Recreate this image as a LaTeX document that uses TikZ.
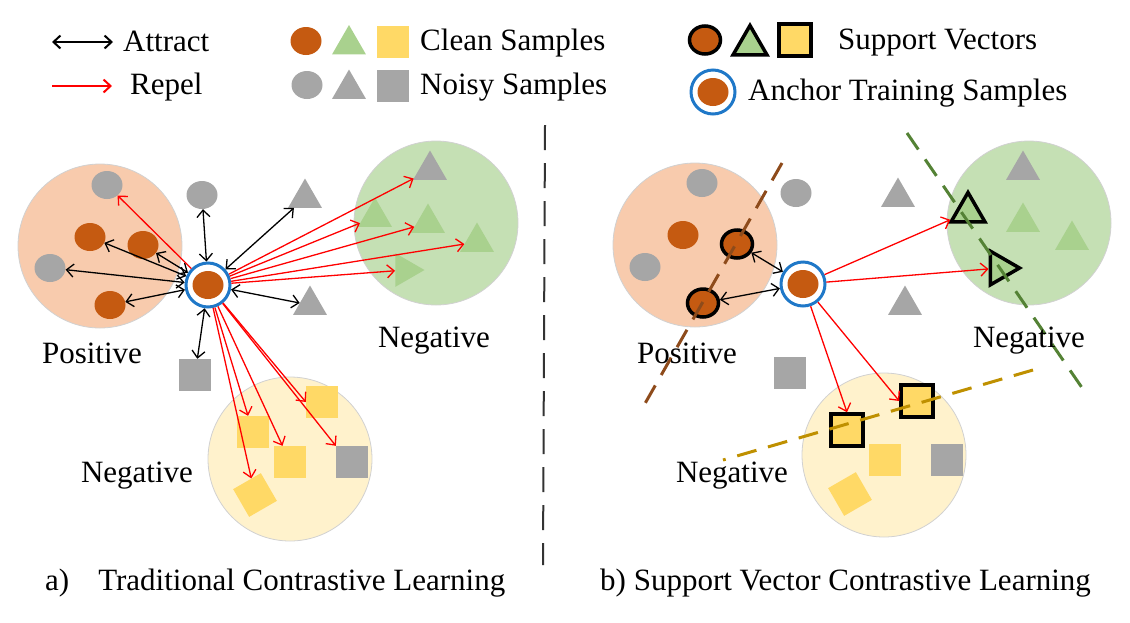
\documentclass[tikz,border=0pt]{standalone}
\usepackage{fontspec}
\setmainfont{Liberation Serif}
\usetikzlibrary{arrows.meta,shapes.geometric}

\definecolor{smpOrange}{HTML}{C55A11}
\definecolor{smpGreen}{HTML}{A9D18E}
\definecolor{smpYellow}{HTML}{FFD966}
\definecolor{smpGrey}{HTML}{A6A6A6}
\definecolor{posFill}{HTML}{F8CBAD}
\definecolor{negGreenFill}{HTML}{C5E0B4}
\definecolor{negYellowFill}{HTML}{FFF2CC}
\definecolor{ringBlue}{HTML}{1F78C8}
\definecolor{bdBrown}{HTML}{8E4B1B}
\definecolor{bdGreen}{HTML}{548235}
\definecolor{bdGold}{HTML}{BF9000}

\tikzset{
  lbl/.style={font=\fontsize{31}{37}\selectfont, inner sep=0pt},
  cluster/.style={circle, draw=black!18, line width=0.8pt, fill=#1, minimum size=164pt, inner sep=0pt},
  smpdot/.style={ellipse, fill=#1, minimum width=31pt, minimum height=28pt, inner sep=0pt},
  smptri/.style={regular polygon, regular polygon sides=3, fill=#1, minimum size=39pt, inner sep=0pt},
  smpsq/.style={rectangle, fill=#1, minimum size=32pt, inner sep=0pt},
  svec/.style={draw=black, line width=3.5pt},
  anchorring/.style={circle, draw=ringBlue, line width=3pt, fill=white, minimum size=44pt, inner sep=0pt},
  attract/.style={black, line width=1.3pt, {Straight Barb[length=7pt,width=13pt]}-{Straight Barb[length=7pt,width=13pt]}},
  repel/.style={red, line width=1.3pt, -{Straight Barb[length=7pt,width=13pt]}},
  boundary/.style={line width=3pt, dash pattern=on 20pt off 12pt},
}

\begin{document}
\begin{tikzpicture}[x=1pt,y=-1pt]
    \useasboundingbox (0,0) rectangle (1130,622);
    % legend
    \coordinate (attA) at (52,42); \coordinate (attB) at (113,42);
    \draw[attract, line width=2pt] (attA) -- (attB);
    \node[lbl, anchor=base west] (attTxt) at (123,51) {Attract};
    \coordinate (repA) at (52,86); \coordinate (repB) at (112,86);
    \draw[repel, line width=2pt] (repA) -- (repB);
    \node[lbl, anchor=base west] (repTxt) at (130,94) {Repel};
    \node[smpdot=smpOrange] (lgO) at (306,41) {};
    \node[smptri=smpGreen] (lgT) at (349,44.5) {};
    \node[smpsq=smpYellow] (lgS) at (393,42) {};
    \node[lbl, anchor=base west] (cleanTxt) at (420,50) {Clean Samples};
    \node[smpdot=smpGrey] (lgOn) at (307,85) {};
    \node[smptri=smpGrey] (lgTn) at (349,89) {};
    \node[smpsq=smpGrey] (lgSn) at (393,86) {};
    \node[lbl, anchor=base west] (noisyTxt) at (420,94) {Noisy Samples};
    \node[smpdot=smpOrange, svec] (lgSvO) at (705,40) {};
    \node[smptri=smpGreen, svec] (lgSvT) at (750,45) {};
    \node[smpsq=smpYellow, svec] (lgSvS) at (795,40) {};
    \node[lbl, anchor=base west] (svTxt) at (838,49) {Support Vectors};
    \node[anchorring] (lgAnc) at (713,92) {};
    \node[smpdot=smpOrange] (lgAncIn) at (lgAnc) {};
    \node[lbl, anchor=base west] (ancTxt) at (748,100) {Anchor Training Samples};
    % divider
    \coordinate (divTop) at (545,125); \coordinate (divBot) at (543,565);
    \draw[black!80, line width=2pt, dash pattern=on 25pt off 13pt] (divTop) -- (divBot);

    % a) traditional
    \node[cluster=posFill] (posL) at (100,246) {};
    \node[cluster=negGreenFill] (negGL) at (436,223) {};
    \node[cluster=negYellowFill] (negYL) at (290,459) {};
    \foreach \n/\x/\y in {oL1/90/237, oL2/143/245, oL3/110/305}
        {\node[smpdot=smpOrange] (\n) at (\x,\y) {};}
    \foreach \n/\x/\y in {gL1/107/185, gL2/50/268, gL3/202/195}
        {\node[smpdot=smpGrey] (\n) at (\x,\y) {};}
    \foreach \n/\x/\y in {tL1/305/198, tL2/310/305, tL3/430/170}
        {\node[smptri=smpGrey] (\n) at (\x,\y) {};}
    \foreach \n/\x/\y in {tL4/375/217, tL5/428/223, tL6/477/242}
        {\node[smptri=smpGreen] (\n) at (\x,\y) {};}
    \node[smptri=smpGreen, rotate=-90] (tL7) at (405,270) {};
    \foreach \n/\x/\y in {qL2/322/402, qL3/253/432, qL4/290/462}
        {\node[smpsq=smpYellow] (\n) at (\x,\y) {};}
    \foreach \n/\x/\y in {qL1/195/375, qL5/352/462}
        {\node[smpsq=smpGrey] (\n) at (\x,\y) {};}
    \node[smpsq=smpYellow, rotate=30] (qL6) at (255,495) {};
    \node[anchorring] (aL) at (208,285) {};
    \node[smpdot=smpOrange] (aLin) at (aL) {};
    \foreach \t in {gL3, oL2, oL1, gL2, oL3, tL1, tL2, qL1}
        {\draw[attract] (aL) -- (\t);}
    \foreach \t in {gL1, tL3, tL4, tL5, tL6, tL7, qL3, qL4, qL2.west, qL5.north west, qL6}
        {\draw[repel] (aL) -- (\t);}
    \node[lbl, anchor=base] (posLtxt) at (92,363) {Positive};
    \node[lbl, anchor=base] (negGLtxt) at (434,347) {Negative};
    \node[lbl, anchor=base] (negYLtxt) at (137,482) {Negative};

    % b) support vector
    \node[cluster=posFill] (posR) at (695,245) {};
    \node[cluster=negGreenFill] (negGR) at (1029,223) {};
    \node[cluster=negYellowFill] (negYR) at (884,455) {};
    \node[smpdot=smpOrange] (oR1) at (683,235) {};
    \foreach \n/\x/\y in {gR1/702/183, gR2/796/193, gR3/645/267}
        {\node[smpdot=smpGrey] (\n) at (\x,\y) {};}
    \foreach \n/\x/\y in {svR1/737/244, svR2/703/303}
        {\node[smpdot=smpOrange, svec] (\n) at (\x,\y) {};}
    \foreach \n/\x/\y in {tR1/898/197, tR2/905/305, tR3/1023/170}
        {\node[smptri=smpGrey] (\n) at (\x,\y) {};}
    \foreach \n/\x/\y in {tR4/1023/222, tR5/1072/240}
        {\node[smptri=smpGreen] (\n) at (\x,\y) {};}
    \node[smptri=smpGreen, svec] (svR3) at (968,212) {};
    \node[smptri=smpGreen, svec, rotate=-90] (svR4) at (1000,268) {};
    \foreach \n/\x/\y in {qR1/790/373, qR3/947/460}
        {\node[smpsq=smpGrey] (\n) at (\x,\y) {};}
    \node[smpsq=smpYellow] (qR2) at (885,460) {};
    \node[smpsq=smpYellow, rotate=30] (qR4) at (850,494) {};
    \foreach \n/\x/\y in {svR5/917/401, svR6/847/430}
        {\node[smpsq=smpYellow, svec] (\n) at (\x,\y) {};}
    \node[anchorring] (aR) at (803,284) {};
    \node[smpdot=smpOrange] (aRin) at (aR) {};
    \coordinate (bdBrA) at (782,163); \coordinate (bdBrB) at (643,407);
    \coordinate (bdGrA) at (907,133); \coordinate (bdGrB) at (1087,395);
    \coordinate (bdGoA) at (1033,370); \coordinate (bdGoB) at (723,460);
    \draw[boundary, bdBrown] (bdBrA) -- (bdBrB);
    \draw[boundary, bdGreen] (bdGrA) -- (bdGrB);
    \draw[boundary, bdGold] (bdGoA) -- (bdGoB);
    \foreach \t in {svR1, svR2}
        {\draw[attract] (aR) -- (\t);}
    \foreach \t in {svR3, svR4, svR6.north, svR5.west}
        {\draw[repel] (aR) -- (\t);}
    \node[lbl, anchor=base] (posRtxt) at (687,363) {Positive};
    \node[lbl, anchor=base] (negGRtxt) at (1029,347) {Negative};
    \node[lbl, anchor=base] (negYRtxt) at (732,482) {Negative};

    % captions
    \node[lbl, anchor=base west] (capA) at (45,590) {a)\hspace{29pt}Traditional Contrastive Learning};
    \node[lbl, anchor=base west] (capB) at (600,590) {b) Support Vector Contrastive Learning};
\end{tikzpicture}
\end{document}
